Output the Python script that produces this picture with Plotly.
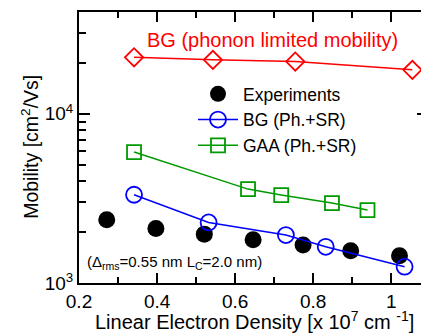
import plotly.graph_objects as go

# ---- data ----
phonon_x = [0.341, 0.543, 0.754, 1.054]
phonon_y = [21600, 20850, 20370, 18200]

exp_x = [0.271, 0.397, 0.521, 0.646, 0.774, 0.896, 1.021]
exp_y = [2366, 2101, 1945, 1803, 1677, 1552, 1449]

bg_x = [0.341, 0.532, 0.730, 0.832, 1.034]
bg_y = [3324, 2281, 1921, 1637, 1248]

gaa_x = [0.341, 0.633, 0.718, 0.848, 0.939]
gaa_y = [5943, 3590, 3311, 2969, 2698]

x_tickvals = [0.2, 0.4, 0.6, 0.8, 1.0]
x_ticktext = ["0.2", "0.4", "0.6", "0.8", "1"]
y_tickvals = [1000, 10000]
y_ticktext = ["10<sup>3</sup>", "10<sup>4</sup>"]
y_minor = [2000, 3000, 4000, 5000, 6000, 7000, 8000, 9000, 20000, 30000]

RED = "#ff0000"
BLUE = "#0000ff"
GREEN = "#009a00"
FONT = "Liberation Sans, Arial, Helvetica, sans-serif"

# the page body adds an 8px offset; plot area targets (page px):
# left 79, right 428, top 12, bottom 283.3
OFF = 8
PL, PR, PT, PB = 79, 428, 12, 283.3
PW, PH = PR - PL, PB - PT
W, H = 429 - OFF, 336 - OFF


def px(xp):
    return (xp - PL) / PW


def py(yp):
    return (PB - yp) / PH


fig = go.Figure()

fig.add_trace(go.Scatter(
    x=phonon_x, y=phonon_y, mode="lines+markers", showlegend=False,
    line=dict(color=RED, width=1.5),
    marker=dict(symbol="diamond-open", size=14, color=RED, line=dict(width=1.8)),
))
fig.add_trace(go.Scatter(
    x=exp_x, y=exp_y, mode="markers", name="Experiments",
    marker=dict(symbol="circle", size=17, color="black"),
))
fig.add_trace(go.Scatter(
    x=bg_x, y=bg_y, mode="lines+markers", name="BG (Ph.+SR)",
    line=dict(color=BLUE, width=1.5),
    marker=dict(symbol="circle-open", size=16, color=BLUE, line=dict(width=1.8)),
))
fig.add_trace(go.Scatter(
    x=gaa_x, y=gaa_y, mode="lines+markers", name="GAA (Ph.+SR)",
    line=dict(color=GREEN, width=1.5),
    marker=dict(symbol="square-open", size=14, color=GREEN, line=dict(width=1.8)),
))

fig.update_layout(
    width=W, height=H,
    margin=dict(l=PL - OFF, r=OFF + W - PR, t=PT - OFF, b=OFF + H - PB, autoexpand=False),
    paper_bgcolor="white", plot_bgcolor="white",
    font=dict(family=FONT, size=19, color="black"),
    showlegend=True,
    legend=dict(
        x=px(193), y=py(76), xanchor="left", yanchor="top",
        bgcolor="rgba(0,0,0,0)", borderwidth=0,
        font=dict(size=17.5, family=FONT), itemwidth=40,
    ),
)

fig.update_xaxes(
    range=[0.2, 1.094], showgrid=False, zeroline=False, automargin=False,
    showline=True, linecolor="black", linewidth=2, mirror="allticks",
    tickmode="array", tickvals=x_tickvals, ticktext=x_ticktext,
    ticks="inside", ticklen=10, tickwidth=1.5, tickcolor="black",
    tickfont=dict(size=19),
    minor=dict(tickmode="linear", tick0=0.2, dtick=0.1, ticks="inside",
               ticklen=6, tickwidth=1.5, tickcolor="black", showgrid=False),
)
fig.update_yaxes(
    type="log", range=[3, 4.60206], showgrid=False, zeroline=False, automargin=False,
    showline=True, linecolor="black", linewidth=2, mirror="allticks",
    tickmode="array", tickvals=y_tickvals, ticktext=y_ticktext,
    ticks="inside", ticklen=11, tickwidth=1.5, tickcolor="black",
    tickfont=dict(size=19),
    minor=dict(tickmode="array", tickvals=y_minor, ticks="inside",
               ticklen=7, tickwidth=1.5, tickcolor="black", showgrid=False),
)

fig.add_annotation(
    text="Mobility [cm<sup>2</sup>/Vs]", textangle=-90,
    xref="paper", yref="paper", x=px(30), y=py(147),
    xanchor="center", yanchor="middle", showarrow=False,
    font=dict(size=19.5, family=FONT),
)
fig.add_annotation(
    text="Linear Electron Density [x 10<sup>7</sup> cm <sup>-1</sup>]",
    xref="paper", yref="paper", x=px(254.5), y=py(321),
    xanchor="center", yanchor="middle", showarrow=False,
    font=dict(size=20, family=FONT),
)
fig.add_annotation(
    text="BG (phonon limited mobility)",
    xref="paper", yref="paper", x=px(272), y=py(40),
    xanchor="center", yanchor="middle", showarrow=False,
    font=dict(size=20, family=FONT, color=RED),
)
fig.add_annotation(
    text="(\u0394<sub>rms</sub>=0.55 nm L<sub>C</sub>=2.0 nm)",
    xref="paper", yref="paper", x=px(85), y=py(263),
    xanchor="left", yanchor="middle", showarrow=False,
    font=dict(size=15, family=FONT),
)

fig.write_html("out.html")
